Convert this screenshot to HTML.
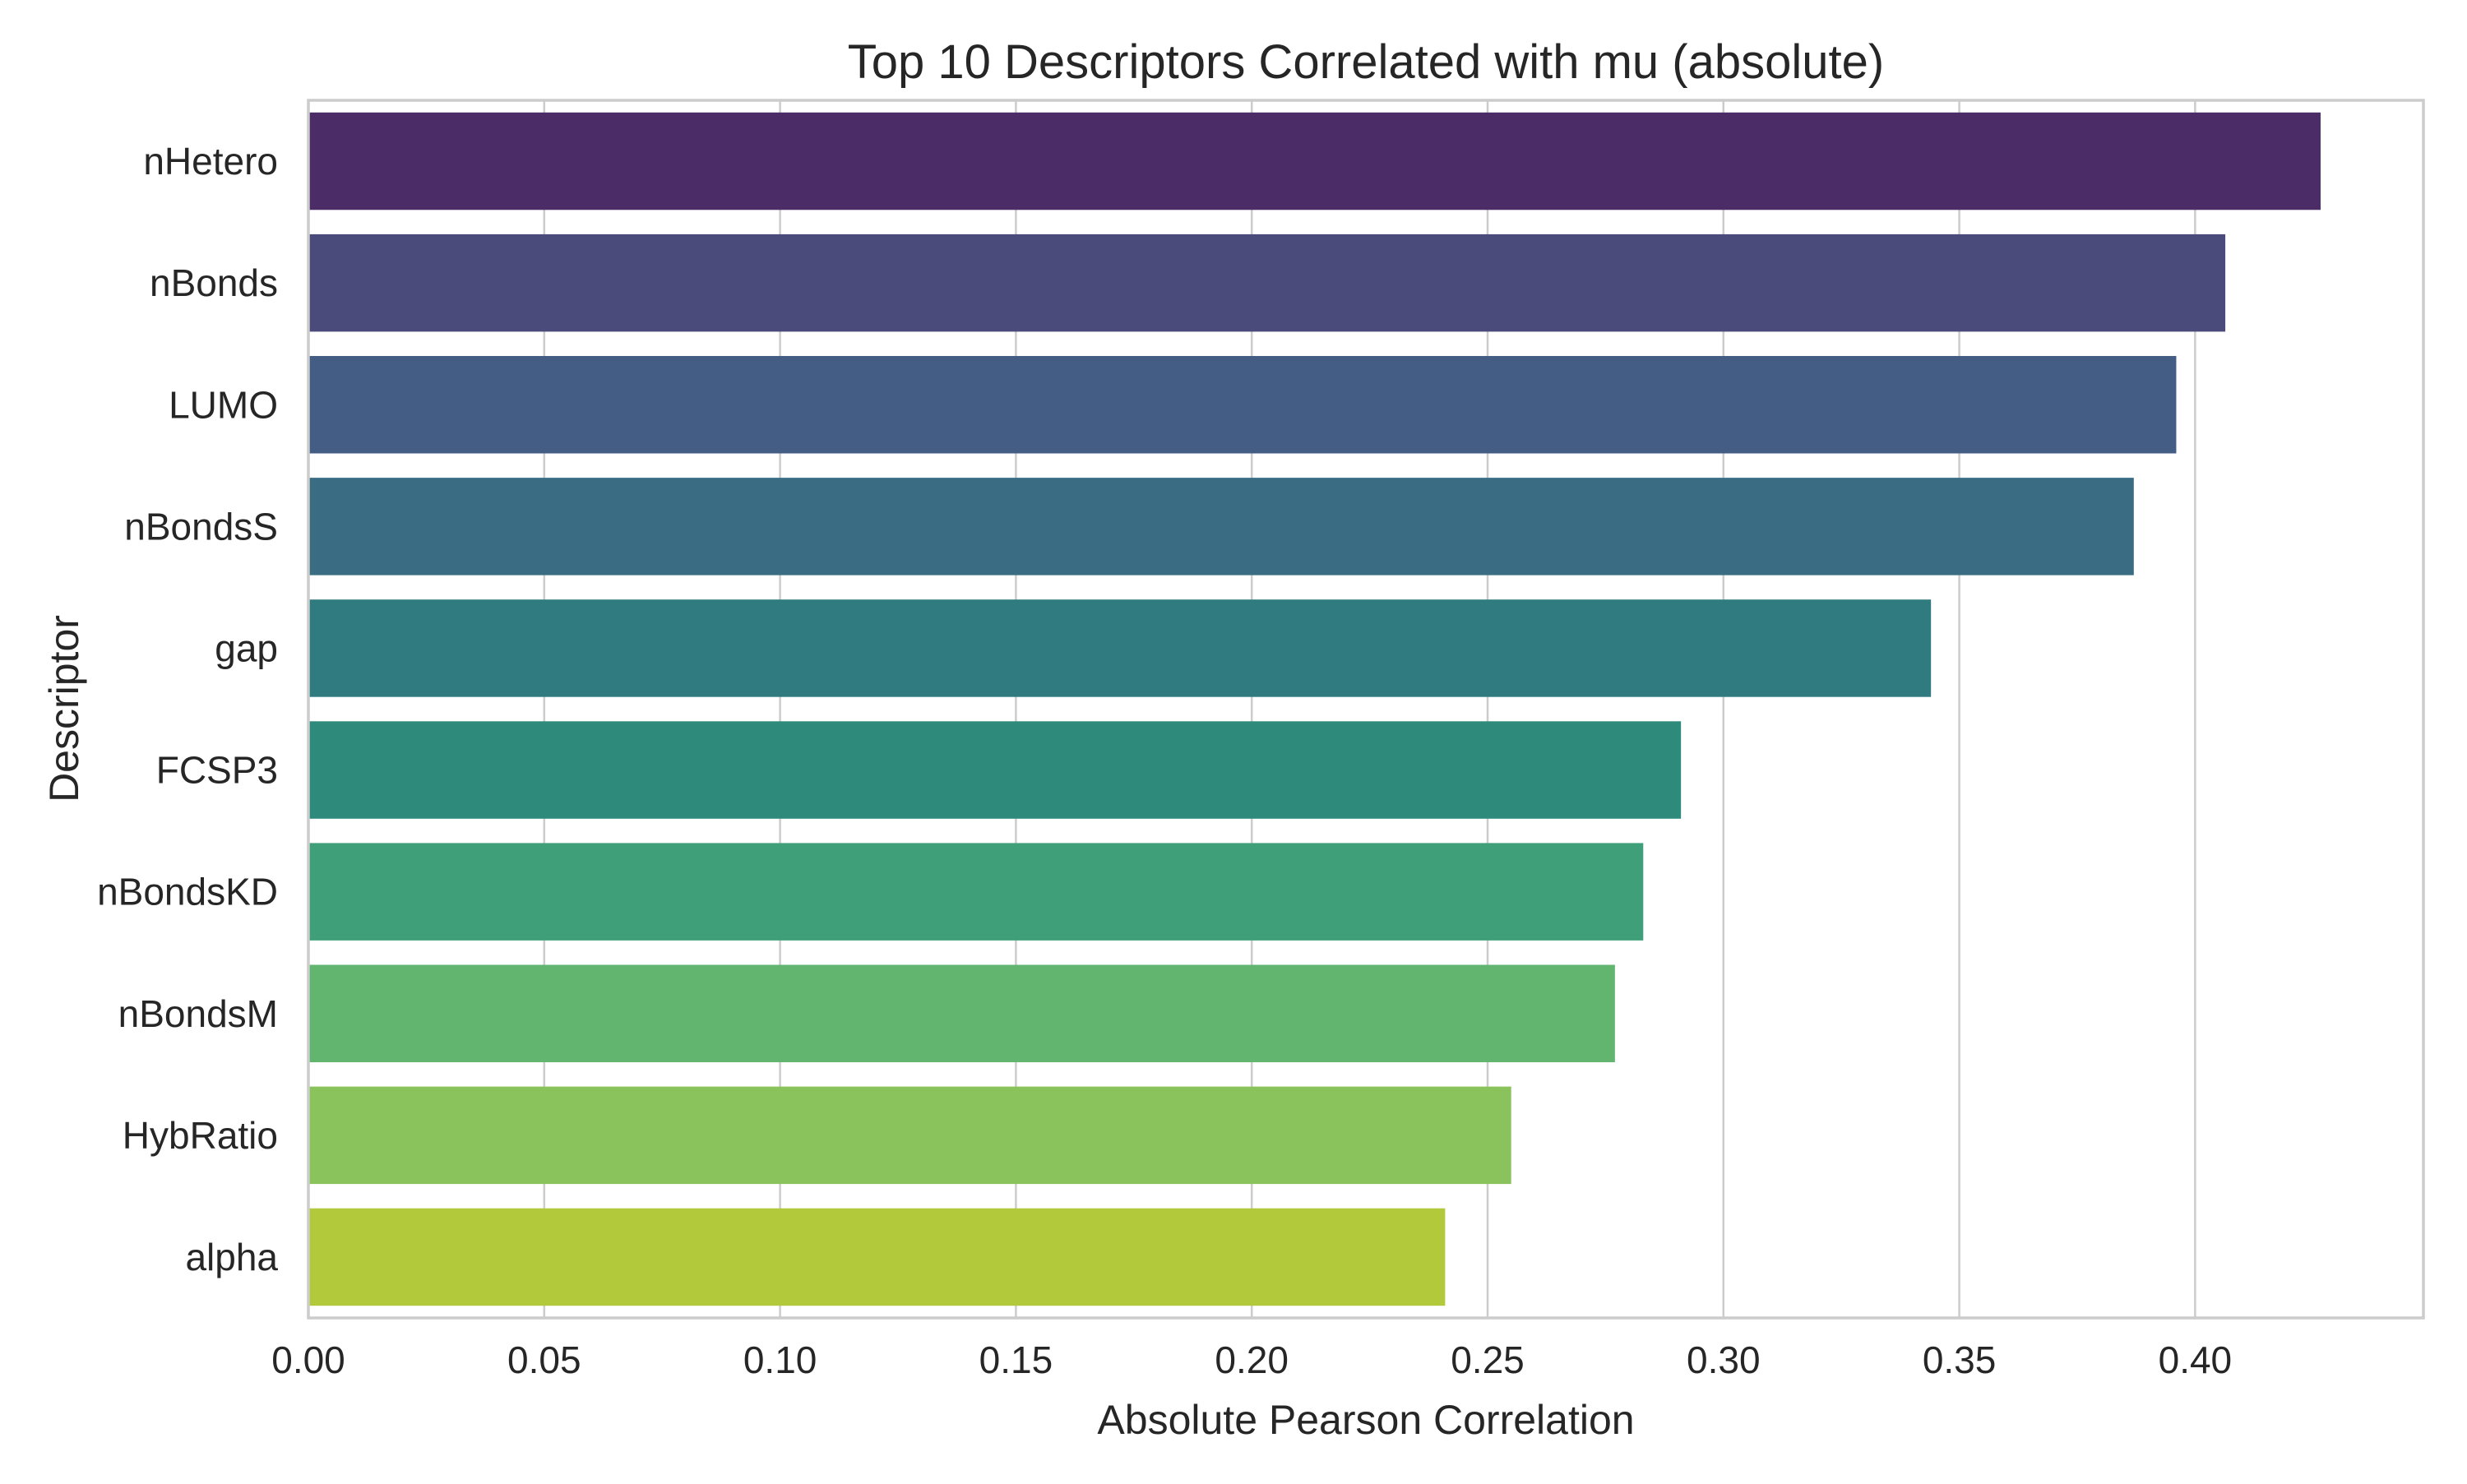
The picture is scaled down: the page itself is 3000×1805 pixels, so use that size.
<!DOCTYPE html>
<html><head><meta charset="utf-8"><style>body{margin:0;background:#fff}svg text{font-family:"Liberation Sans",sans-serif;fill:#262626}</style></head>
<body>
<svg id="chart" width="3000" height="1800" xmlns="http://www.w3.org/2000/svg">
<rect width="3000" height="1800" fill="#fff"/>
<g id="grid"></g><g id="bars"></g><g id="axes"></g>
<text x="1661" y="95" font-size="58" text-anchor="middle">Top 10 Descriptors Correlated with mu (absolute)</text>
<text x="1661" y="1744" font-size="50" text-anchor="middle">Absolute Pearson Correlation</text>
<text x="95" y="862" font-size="50" text-anchor="middle" transform="rotate(-90 95 862)">Descriptor</text>
</svg>
<script>
const categories = ["nHetero","nBonds","LUMO","nBondsS","gap","FCSP3","nBondsKD","nBondsM","HybRatio","alpha"];
const values = [0.4266,0.4064,0.396,0.387,0.344,0.291,0.283,0.277,0.255,0.241];
const colors = ["#4b2c67","#4a4a7b","#435d84","#3a6d84","#307b80","#2e8b7c","#3e9f78","#61b56f","#8ac35c","#b2c93c"];
const xTicks = [0,0.05,0.10,0.15,0.20,0.25,0.30,0.35,0.40];
const xTickLabels = ["0.00","0.05","0.10","0.15","0.20","0.25","0.30","0.35","0.40"];
const L=375,R=2947,T=122,B=1603,xMax=0.4484;
const NS="http://www.w3.org/2000/svg";
function x(v){return L+v/xMax*(R-L);}
const band=(B-T)/categories.length;
function y(i){return T+band*(i+0.5);}
function mk(tag,attrs,parent){const e=document.createElementNS(NS,tag);for(const k in attrs)e.setAttribute(k,attrs[k]);parent.appendChild(e);return e;}
const grid=document.getElementById('grid'),bars=document.getElementById('bars'),axes=document.getElementById('axes');
xTicks.forEach((t,i)=>{
  const g=mk('line',{x1:x(t),x2:x(t),y1:T,y2:B,stroke:'#cccccc','stroke-width':2.5},grid);
  
  
  const tx=mk('text',{x:x(t),y:1670,'font-size':46,'text-anchor':'middle'},axes);
  tx.textContent=xTickLabels[i];
  
  
});
categories.forEach((c,i)=>{
  const r=mk('rect',{x:L,y:y(i)-band*0.4,width:x(values[i])-L,height:band*0.8,fill:colors[i]},bars);
  
  
  const t=mk('text',{x:338,y:y(i)+16,'font-size':46,'text-anchor':'end'},axes);
  t.textContent=c;
  
  
});
const sp=mk('rect',{x:L,y:T,width:R-L,height:B-T,fill:'none',stroke:'#cccccc','stroke-width':3.5},axes);


</script>
</body></html>
